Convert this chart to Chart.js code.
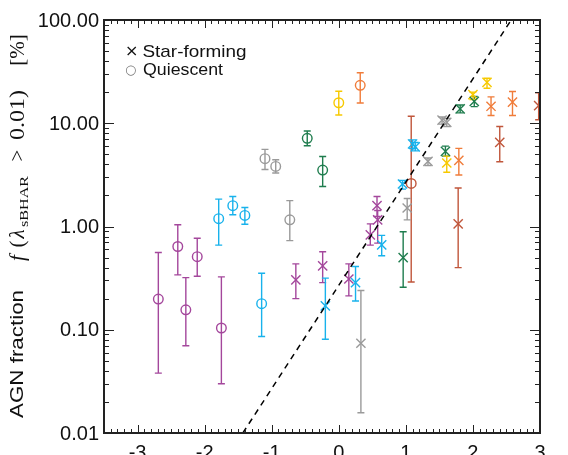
<!DOCTYPE html>
<html>
<head>
<meta charset="utf-8">
<script src="https://cdn.jsdelivr.net/npm/chart.js@4.4.0/dist/chart.umd.min.js"></script>
<style>
    html, body { margin: 0; padding: 0; background: #fff; overflow: hidden; }
    #wrap { width: 568px; height: 480px; }
</style>
</head>
<body>
<div id="wrap"><canvas id="agnChart" width="568" height="480"></canvas></div>
<script>
// rows: [x, fraction %, lower error end, upper error end]
const quiescentPurple = [
    [-2.69, 0.198, 0.038, 0.56],
    [-2.40, 0.64, 0.34, 1.04],
    [-2.28, 0.156, 0.070, 0.32],
    [-2.11, 0.51, 0.33, 0.77],
    [-1.75, 0.104, 0.030, 0.325]
];
const quiescentCyan = [
    [-1.79, 1.19, 0.66, 1.84],
    [-1.58, 1.59, 1.30, 1.95],
    [-1.40, 1.28, 1.05, 1.53],
    [-1.15, 0.179, 0.086, 0.353]
];
const quiescentGray = [
    [-1.10, 4.54, 3.57, 5.58],
    [-0.94, 3.82, 3.30, 4.43],
    [-0.73, 1.16, 0.73, 1.78]
];
const quiescentGreen = [
    [-0.47, 7.14, 6.06, 8.42],
    [-0.24, 3.52, 2.44, 4.77]
];
const quiescentYellow = [[0.00, 15.8, 12.0, 20.4]];
const quiescentOrange = [[0.32, 23.3, 15.7, 30.8]];
const quiescentBrick = [[1.08, 2.61, 0.29, 11.7]];

const starPurple = [
    [-0.64, 0.304, 0.20, 0.435],
    [-0.24, 0.416, 0.286, 0.57],
    [0.15, 0.31, 0.213, 0.435],
    [0.47, 0.83, 0.66, 1.06],
    [0.57, 1.59, 1.25, 1.95],
    [0.58, 1.16, 0.69, 1.43]
];
const starCyan = [
    [-0.20, 0.170, 0.081, 0.316],
    [0.25, 0.286, 0.19, 0.41],
    [0.64, 0.665, 0.52, 0.82],
    [0.95, 2.58, 2.3, 2.8],
    [1.10, 6.3, 5.7, 6.9],
    [1.14, 5.9, 5.4, 6.5]
];
const starGray = [
    [0.33, 0.074, 0.0157, 0.24],
    [1.02, 1.51, 1.16, 1.87],
    [1.33, 4.27, 3.9, 4.6],
    [1.54, 10.7, 9.8, 11.5],
    [1.61, 10.2, 9.3, 11.1]
];
const starGreen = [
    [0.96, 0.50, 0.258, 0.89],
    [1.59, 5.34, 4.8, 6.0],
    [1.81, 13.8, 12.6, 15.0],
    [2.02, 16.3, 14.5, 18.2]
];
const starYellow = [
    [1.61, 4.12, 3.35, 4.8],
    [2.00, 18.9, 17.0, 20.0],
    [2.21, 24.9, 21.8, 27.3]
];
const starOrange = [
    [1.79, 4.37, 3.15, 5.71],
    [2.27, 14.6, 11.9, 18.0],
    [2.59, 16.0, 11.9, 20.3]
];
const starBrick = [
    [1.78, 1.06, 0.40, 2.36],
    [2.40, 6.53, 4.24, 9.3],
    [2.98, 14.8, 10.8, 19.7]
];

// dashed one-to-one line
const lineX = [-1.43, 2.57];
const lineY = [0.01, 100];

const xTicks = [-3, -2, -1, 0, 1, 2, 3];
const yTicks = [0.01, 0.1, 1, 10, 100];

const palette = {
    purple: '#a4479c',
    cyan: '#18b2ec',
    gray: '#9a9a9a',
    green: '#1f7d4e',
    yellow: '#f7c900',
    orange: '#f07c3a',
    brick: '#c0563b'
};

//********************************************************************************
/// Build datasets
//********************************************************************************
function toPoints(rows) {
    return rows.map(r => ({ x: r[0], y: r[1], lo: r[2], hi: r[3] }));
}

function markDataset(rows, color, quiescent) {
    return {
        type: 'scatter',
        data: toPoints(rows),
        borderColor: color,
        backgroundColor: 'rgba(0,0,0,0)',
        pointStyle: quiescent ? 'circle' : 'crossRot',
        pointRadius: quiescent ? 4.8 : 6.5,
        pointBorderWidth: 1.4,
        showLine: false,
        clip: 0
    };
}

const datasets = [
    {
        type: 'line',
        data: lineX.map((v, i) => ({ x: v, y: lineY[i] })),
        borderColor: '#000',
        borderWidth: 1.5,
        borderDash: [6, 5],
        pointRadius: 0,
        fill: false
    },
    markDataset(quiescentPurple, palette.purple, true),
    markDataset(quiescentCyan, palette.cyan, true),
    markDataset(quiescentGray, palette.gray, true),
    markDataset(quiescentGreen, palette.green, true),
    markDataset(quiescentYellow, palette.yellow, true),
    markDataset(quiescentOrange, palette.orange, true),
    markDataset(quiescentBrick, palette.brick, true),
    markDataset(starPurple, palette.purple, false),
    markDataset(starCyan, palette.cyan, false),
    markDataset(starGray, palette.gray, false),
    markDataset(starGreen, palette.green, false),
    markDataset(starYellow, palette.yellow, false),
    markDataset(starOrange, palette.orange, false),
    markDataset(starBrick, palette.brick, false)
];

//********************************************************************************
/// Plugins: error bars, frame with inward ticks, legend and axis title
//********************************************************************************
const errorBars = {
    id: 'errorBars',
    beforeDatasetsDraw(chart) {
        const { ctx, chartArea: a, scales: { x, y } } = chart;
        ctx.save();
        ctx.beginPath();
        ctx.rect(a.left, a.top, a.right - a.left, a.bottom - a.top);
        ctx.clip();
        ctx.lineWidth = 1.4;
        chart.data.datasets.forEach(ds => {
            ds.data.forEach(p => {
                if (p.lo === undefined) return;
                const px = x.getPixelForValue(p.x);
                const top = y.getPixelForValue(p.hi);
                const bot = y.getPixelForValue(p.lo);
                ctx.strokeStyle = ds.borderColor;
                ctx.beginPath();
                ctx.moveTo(px, top); ctx.lineTo(px, bot);
                ctx.moveTo(px - 3.5, top); ctx.lineTo(px + 3.5, top);
                ctx.moveTo(px - 3.5, bot); ctx.lineTo(px + 3.5, bot);
                ctx.stroke();
            });
        });
        ctx.restore();
    }
};

// draw a piece of text, stretched to fit between two positions when asked
function fitText(ctx, text, font, from, to, stretch) {
    ctx.font = font;
    const w = ctx.measureText(text).width;
    const sx = stretch ? (to - from) / w : 1;
    ctx.save();
    ctx.translate(stretch ? from : (from + to - w) / 2, 0);
    ctx.scale(sx, 1);
    ctx.fillText(text, 0, 0);
    ctx.restore();
}

const decorations = {
    id: 'decorations',
    afterDraw(chart) {
        const { ctx, chartArea: a, scales: { x, y } } = chart;
        ctx.save();
        ctx.strokeStyle = '#222';
        ctx.lineWidth = 1;

        // x minor/major ticks, bottom and top
        for (let i = -35; i <= 30; i++) {
            const px = Math.round(x.getPixelForValue(i / 10)) + 0.5;
            const len = i % 10 === 0 ? 8 : 4;
            ctx.beginPath();
            ctx.moveTo(px, a.bottom); ctx.lineTo(px, a.bottom - len);
            ctx.moveTo(px, a.top); ctx.lineTo(px, a.top + len);
            ctx.stroke();
        }
        // y log ticks, left and right
        for (let e = -2; e <= 2; e++) {
            for (let m = 1; m <= 9; m++) {
                if (e === 2 && m > 1) break;
                const py = Math.round(y.getPixelForValue(m * Math.pow(10, e))) + 0.5;
                const len = m === 1 ? 10 : 5;
                ctx.beginPath();
                ctx.moveTo(a.left, py); ctx.lineTo(a.left + len, py);
                ctx.moveTo(a.right, py); ctx.lineTo(a.right - len, py);
                ctx.stroke();
            }
        }
        ctx.lineWidth = 2;
        ctx.strokeRect(a.left, a.top, a.right - a.left, a.bottom - a.top);

        // legend
        ctx.fillStyle = '#111';
        ctx.textBaseline = 'alphabetic';
        ctx.font = '16px "DejaVu Sans"';
        ctx.fillText('×', 125, 56);
        ctx.save();
        ctx.translate(0, 56.5);
        fitText(ctx, 'Star-forming', '17px "Liberation Sans"', 142.5, 246.5, true);
        ctx.restore();
        ctx.fillStyle = '#777';
        ctx.font = '13px "DejaVu Sans"';
        ctx.fillText('○', 125, 74);
        ctx.fillStyle = '#111';
        ctx.save();
        ctx.translate(0, 75);
        fitText(ctx, 'Quiescent', '17px "Liberation Sans"', 143, 223, true);
        ctx.restore();

        // rotated y-axis title, read bottom to top
        const pieces = [
            ['AGN fraction', '19px "Liberation Sans"', 418, 290, 23, true],
            ['f', 'italic 21px "Liberation Serif"', 267, 249, 24, false],
            ['(', '21px "Liberation Serif"', 247, 241, 24, false],
            ['λ', 'italic 21px "Liberation Serif"', 240, 228, 24, false],
            ['sBHAR', '13px "Liberation Serif"', 227, 176, 28, true],
            ['>', '21px "Liberation Serif"', 164, 147, 24, false],
            ['0.01)', '21px "Liberation Serif"', 140, 90, 24, true],
            ['[%]', '21px "Liberation Serif"', 63, 37, 24, false]
        ];
        pieces.forEach(([text, font, yFrom, yTo, base, stretch]) => {
            ctx.save();
            ctx.translate(base, 0);
            ctx.rotate(-Math.PI / 2);
            fitText(ctx, text, font, -yFrom, -yTo, stretch);
            ctx.restore();
        });
        ctx.restore();
    }
};

//********************************************************************************
/// Chart
//********************************************************************************
const tickFont = { family: 'Liberation Sans', size: 20 };

new Chart(document.getElementById('agnChart'), {
    data: { datasets },
    options: {
        responsive: false,
        animation: false,
        devicePixelRatio: 1,
        layout: { padding: { top: 20, right: 28, left: 0, bottom: 0 } },
        plugins: {
            legend: { display: false },
            tooltip: { enabled: false }
        },
        scales: {
            x: {
                type: 'linear',
                min: -3.5,
                max: 3,
                afterBuildTicks: s => { s.ticks = xTicks.map(v => ({ value: v })); },
                afterFit: s => { s.height = 47; },
                grid: { display: false, drawTicks: false },
                border: { display: false },
                ticks: { font: tickFont, color: '#111', padding: 8, autoSkip: false, maxRotation: 0, callback: v => String(v) }
            },
            y: {
                type: 'logarithmic',
                min: 0.01,
                max: 100,
                afterBuildTicks: s => { s.ticks = yTicks.map(v => ({ value: v })); },
                afterFit: s => { s.width = 104; },
                grid: { display: false, drawTicks: false },
                border: { display: false },
                ticks: { font: tickFont, color: '#111', padding: 5, labelOffset: 1, autoSkip: false, callback: v => v.toFixed(2) }
            }
        }
    },
    plugins: [errorBars, decorations]
});
</script>
</body>
</html>
